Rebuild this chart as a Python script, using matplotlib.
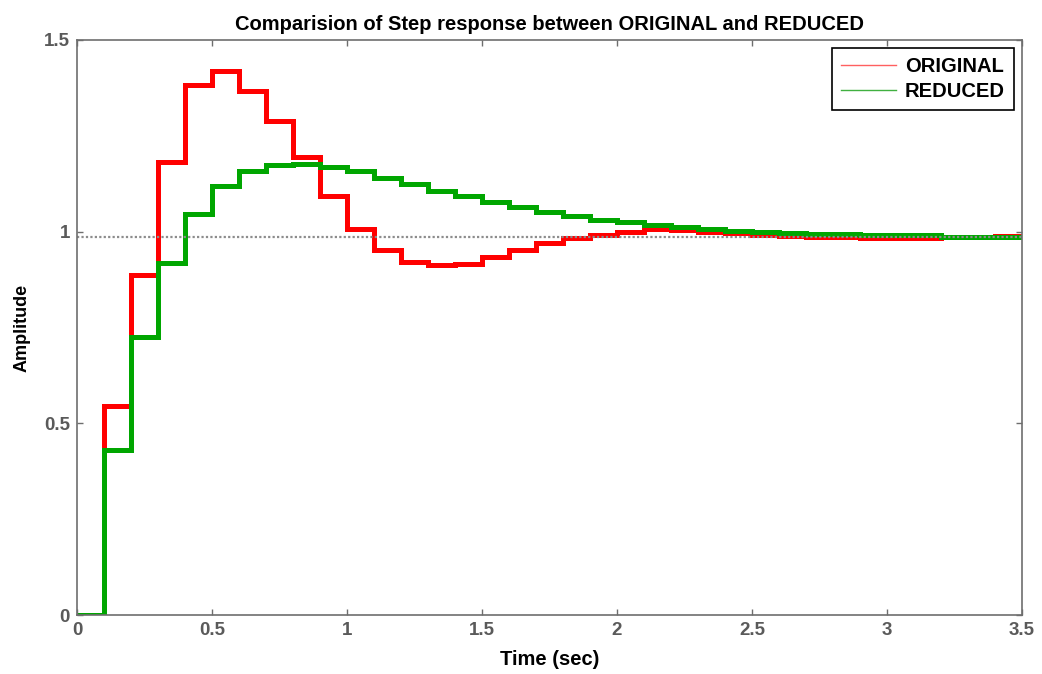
import numpy as np
from matplotlib import pyplot as plt
from matplotlib.lines import Line2D

Ts = 0.1
original = [0, 0.546, 0.886, 1.183, 1.382, 1.418, 1.368, 1.290, 1.194, 1.093,
            1.006, 0.952, 0.922, 0.912, 0.915, 0.933, 0.952, 0.970, 0.983, 0.991,
            1.000, 1.006, 1.004, 1.000, 0.996, 0.992, 0.989, 0.986, 0.986, 0.984,
            0.984, 0.984, 0.985, 0.986, 0.989]
reduced = [0, 0.430, 0.725, 0.919, 1.045, 1.119, 1.159, 1.175, 1.177, 1.170,
           1.157, 1.140, 1.124, 1.107, 1.093, 1.078, 1.064, 1.052, 1.041, 1.031,
           1.024, 1.017, 1.011, 1.006, 1.003, 0.999, 0.996, 0.993, 0.993, 0.991,
           0.991, 0.991, 0.987, 0.987, 0.987]
final_value = 0.987

edges = np.arange(len(original) + 1) * Ts
gray = '#6e6e6e'
font = 'Liberation Sans'

fig = plt.figure(figsize=(10.42, 6.74), dpi=100)
ax = fig.add_axes([77 / 1042, 59 / 674, 945 / 1042, 575 / 674])

ax.axhline(final_value, color='#8c8c8c', linestyle=(0, (1, 1)), linewidth=1.6)
ax.stairs(original, edges, baseline=None, color='#ff0000', linewidth=3.6)
ax.stairs(reduced, edges, baseline=None, color='#00a600', linewidth=3.6)

ax.set_xlim(0, 3.5)
ax.set_ylim(0, 1.5)
ax.set_xticks(np.arange(0, 3.51, 0.5))
ax.set_xticklabels(['0', '0.5', '1', '1.5', '2', '2.5', '3', '3.5'])
ax.set_yticks([0, 0.5, 1, 1.5])
ax.set_yticklabels(['0', '0.5', '1', '1.5'])
ax.tick_params(direction='in', length=4, width=1, color=gray, top=True, right=True,
               labelsize=13.5, labelcolor='#5a5a5a', pad=5)
for lab in ax.get_xticklabels() + ax.get_yticklabels():
    lab.set_fontweight('bold')
    lab.set_family(font)
for s in ax.spines.values():
    s.set_color(gray)
    s.set_linewidth(1.2)

ax.set_title('Comparision of Step response between ORIGINAL and REDUCED',
             fontsize=14.5, fontweight='bold', family=font, pad=7)
ax.set_xlabel('Time (sec)', fontsize=14.5, fontweight='bold', family=font, labelpad=8)
ax.set_ylabel('Amplitude', fontsize=13, fontweight='bold', family=font, labelpad=10)

handles = [Line2D([], [], color='#ff6060', linewidth=1),
           Line2D([], [], color='#40b040', linewidth=1)]
leg = ax.legend(handles, ['ORIGINAL', 'REDUCED'], loc='upper right',
                prop={'family': font, 'weight': 'bold', 'size': 14.5},
                fancybox=False, framealpha=1, edgecolor='black', borderaxespad=0.4,
                handlelength=2.7, handletextpad=0.45, labelspacing=0.3, borderpad=0.45)
leg.get_frame().set_linewidth(1.2)

fig.savefig('out.png', dpi=100)
